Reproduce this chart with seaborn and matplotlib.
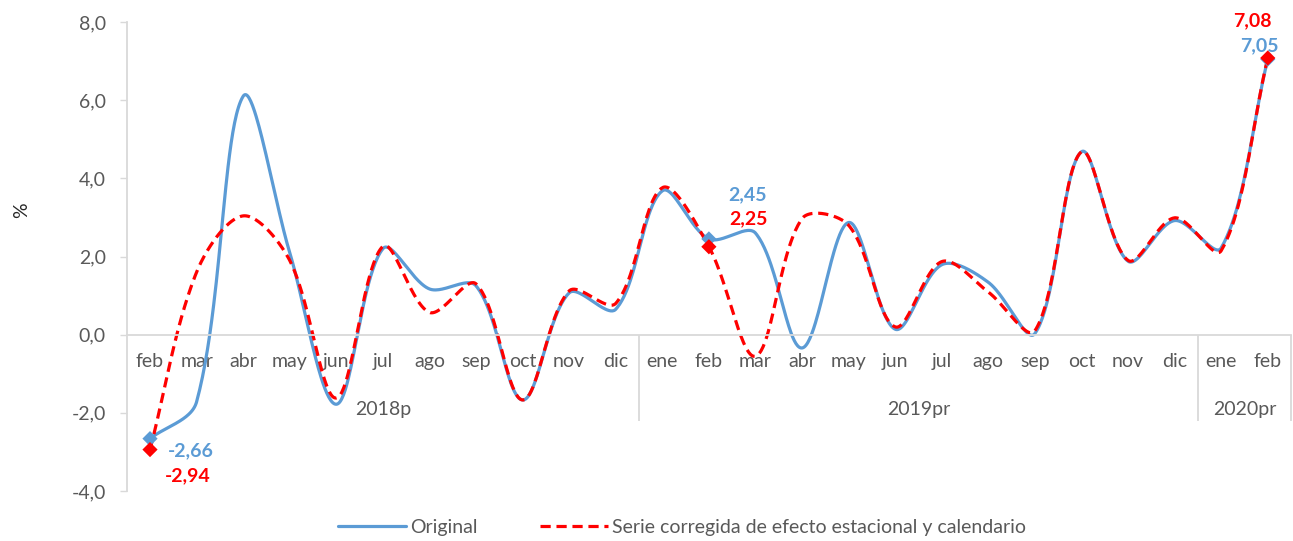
import numpy as np
import pandas as pd
import matplotlib
matplotlib.use('Agg')
import matplotlib.pyplot as plt
import seaborn as sns

months = ['feb', 'mar', 'abr', 'may', 'jun', 'jul', 'ago', 'sep', 'oct', 'nov', 'dic',
          'ene', 'feb', 'mar', 'abr', 'may', 'jun', 'jul', 'ago', 'sep', 'oct', 'nov', 'dic',
          'ene', 'feb']
years = ['2018p', '2019pr', '2020pr']
year_sizes = [11, 12, 2]

original = [-2.66, -1.72, 6.10, 2.10, -1.78, 2.20, 1.17, 1.25, -1.67, 1.07, 0.65,
            3.68, 2.45, 2.60, -0.34, 2.87, 0.14, 1.79, 1.34, 0.03, 4.68, 1.88, 2.92,
            2.22, 7.05]
corregida = [-2.94, 1.60, 3.04, 1.90, -1.62, 2.26, 0.57, 1.30, -1.67, 1.12, 0.80,
             3.76, 2.25, -0.55, 2.97, 2.80, 0.20, 1.87, 1.09, 0.10, 4.68, 1.90, 2.99,
             2.15, 7.08]

BLUE = '#5B9BD5'
RED = '#FF0000'
GRAY = '#595959'
LGRAY = '#D9D9D9'

LEFT, RIGHT, TOP, BOTTOM = 0.098, 0.9985, 0.9593, 0.0924
W, H = 1293, 541


def smooth(vals, sx, sy, steps=50):
    # excel-like smoothed line: bezier through the points, tangents scaled by
    # segment length in screen space
    y = np.asarray(vals, float) * sy
    x = np.arange(len(y), dtype=float) * sx
    P = np.column_stack([x, y])
    P = np.vstack([P[:1], P, P[-1:]])
    t = np.linspace(0, 1, steps)[:, None]
    out = []
    for i in range(1, len(P) - 2):
        a, b, c, d = P[i - 1], P[i], P[i + 1], P[i + 2]
        l0 = np.hypot(*(b - a))
        l1 = np.hypot(*(c - b))
        l2 = np.hypot(*(d - c))
        c1 = b + (c - a) / 3 * l1 / (l0 + l1)
        c2 = c - (d - b) / 3 * l1 / (l1 + l2)
        seg = (1 - t) ** 3 * b + 3 * (1 - t) ** 2 * t * c1 + 3 * (1 - t) * t ** 2 * c2 + t ** 3 * c
        out.append(seg)
    out = np.vstack(out)
    return out[:, 0] / sx, out[:, 1] / sy


sns.set_style('white')
plt.rcParams['font.family'] = ['Lato', 'DejaVu Sans']

fig, ax = plt.subplots(figsize=(W / 100, H / 100), dpi=100)
fig.subplots_adjust(left=LEFT, right=RIGHT, top=TOP, bottom=BOTTOM)

sx = (RIGHT - LEFT) * W / len(months)
sy = (TOP - BOTTOM) * H / 12
xo, yo = smooth(original, sx, sy)
xc, yc = smooth(corregida, sx, sy)
sns.lineplot(x=xo, y=yo, sort=False, estimator=None, ax=ax, color=BLUE, lw=2.3,
             label='Original')
sns.lineplot(x=xc, y=yc, sort=False, estimator=None, ax=ax, color=RED, lw=2.3,
             linestyle=(0, (3.2, 1.8)), label='Serie corregida de efecto estacional y calendario')

feb_idx = [i for i, m in enumerate(months) if m == 'feb']
sns.scatterplot(x=feb_idx, y=[original[i] for i in feb_idx], marker='D', s=60,
                color=BLUE, edgecolor='none', ax=ax, zorder=5)
sns.scatterplot(x=feb_idx, y=[corregida[i] for i in feb_idx], marker='D', s=60,
                color=RED, edgecolor='none', ax=ax, zorder=6)

fmt = lambda v: f'{v:.2f}'.replace('.', ',')
# value labels (offsets in points)
off_o = [(13, -9), (14, 32), (-6, 10)]
off_c = [(11, -19), (15, 20), (-11, 27)]
for k, i in enumerate(feb_idx):
    ax.annotate(fmt(original[i]), (i, original[i]), xytext=off_o[k], textcoords='offset points',
                color=BLUE, fontsize=14, fontweight='bold', ha='left' if k < 2 else 'center',
                va='center')
    ax.annotate(fmt(corregida[i]), (i, corregida[i]), xytext=off_c[k], textcoords='offset points',
                color=RED, fontsize=14, fontweight='bold', ha='left' if k < 2 else 'center',
                va='center')

ax.set_xlim(-0.5, len(months) - 0.5)
ax.set_ylim(-4, 8)
ticks = np.arange(-4, 9, 2)
ax.set_yticks(ticks)
ax.set_yticklabels([f'{t:.1f}'.replace('.', ',') for t in ticks])
ax.set_xticks(range(len(months)))
ax.set_xticklabels(months)
ax.tick_params(axis='y', length=5, color=LGRAY, width=1, pad=10, labelsize=14, labelcolor=GRAY, left=True)
ax.tick_params(axis='x', length=0, pad=13, labelsize=14, labelcolor=GRAY)

for s in ['top', 'right']:
    ax.spines[s].set_visible(False)
ax.spines['bottom'].set_position(('data', 0))
ax.spines['bottom'].set_color(LGRAY)
ax.spines['left'].set_color(LGRAY)
ax.spines['bottom'].set_linewidth(1.3)
ax.spines['left'].set_linewidth(1.3)

# year groups and separators
bounds = np.cumsum([0] + year_sizes) - 0.5
ax.vlines(bounds[1:], -2.22, 0, color=LGRAY, lw=1.3, clip_on=False)
for k, yr in enumerate(years):
    c = (bounds[k] + bounds[k + 1]) / 2
    ax.annotate(yr, (c, 0), xytext=(0, -54), textcoords='offset points', ha='center',
                va='center', fontsize=14, color=GRAY)

ax.set_xlabel('')
ax.set_ylabel('')
fig.text(22 / W, 1 - 210 / H, '%', rotation=90, fontsize=14, color='#262626',
         ha='center', va='center')

h, l = ax.get_legend_handles_labels()
ax.get_legend().remove()
fig.legend(h, l, loc='center', bbox_to_anchor=(682 / W, 1 - 527 / H), ncol=2,
           frameon=False, fontsize=14, handlelength=3.5, handletextpad=0.2,
           columnspacing=3.2, labelcolor=GRAY)

fig.savefig('out.png', dpi=100)
